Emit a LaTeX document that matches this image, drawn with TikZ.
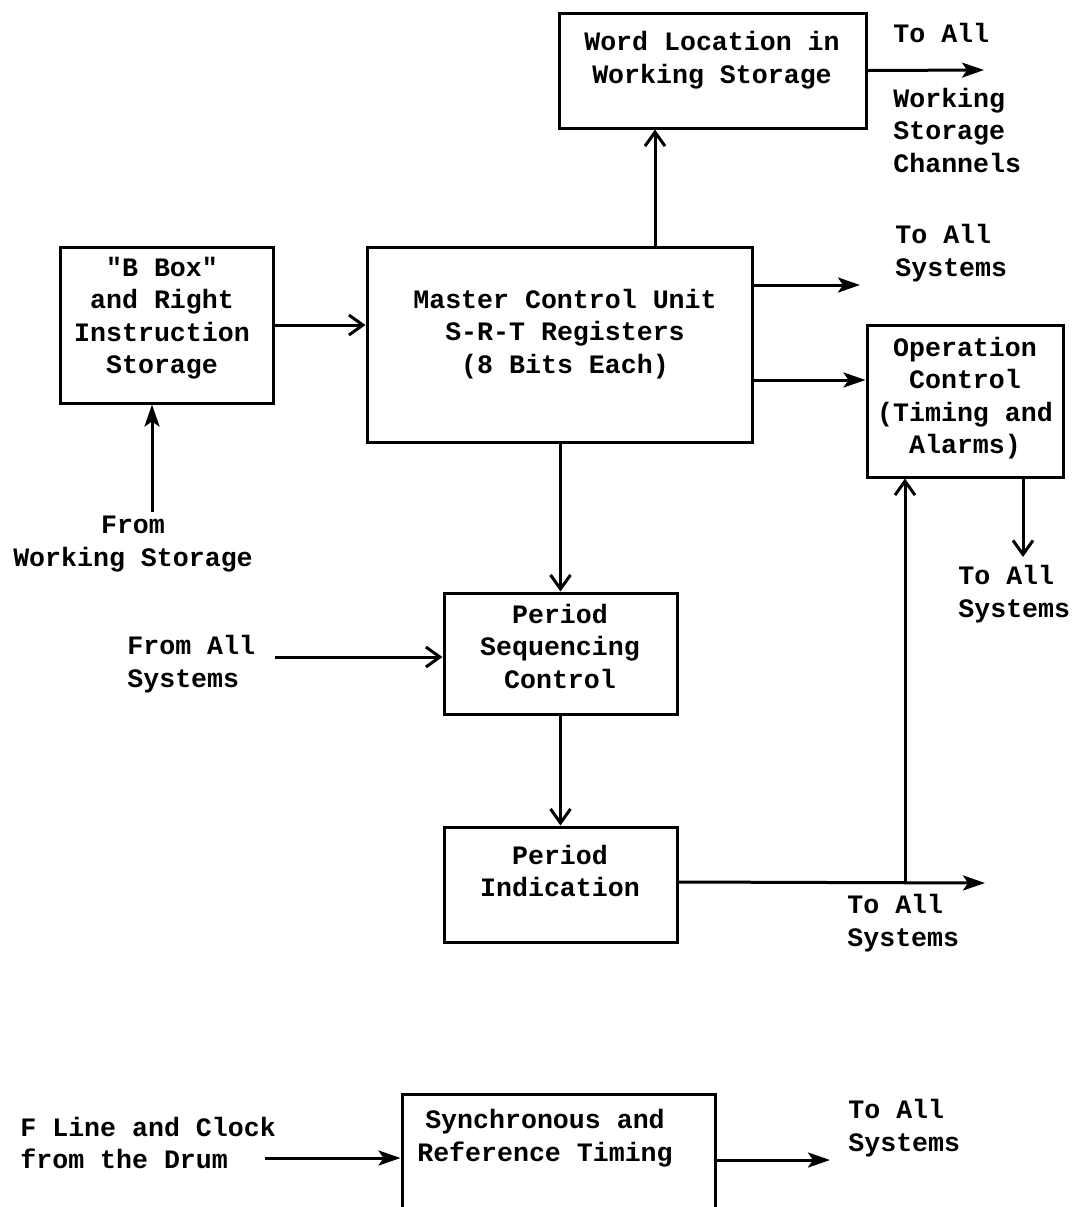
\documentclass[tikz,border=0pt]{standalone}
\usepackage{fontspec}
\setmonofont{Liberation Mono}
\usetikzlibrary{arrows.meta,fit}
\begin{document}
\begin{tikzpicture}[x=0.5pt,y=-0.5pt,
  box/.style={draw, line width=1.5pt, inner sep=0pt},
  txt/.style={font=\ttfamily\bfseries\fontsize{13.3}{16.25}\selectfont, align=center, inner sep=0pt},
  ltxt/.style={txt, align=left, anchor=west},
  conn/.style={line width=1.5pt},
  arrS/.style={conn, -{Stealth[length=11pt,width=7.5pt,inset=2.5pt]}},
  arrB/.style={conn, -{Straight Barb[length=7pt,width=10pt]}},
]
\useasboundingbox (0,0) rectangle (1074,1207);
\fill[white] (0,0) rectangle (1074,1207);
\clip (0,0) rectangle (1074,1207);

% boxes
\node[box, fit={(559,13) (866,128)}] (wl) {};
\node[box, fit={(60,247) (273,403)}] (bb) {};
\node[box, fit={(367,247) (752,442)}] (mc) {};
\node[box, fit={(867,325) (1063,477)}] (oc) {};
\node[box, fit={(444,593) (677,714)}] (seq) {};
\node[box, fit={(444,827) (677,942)}] (ind) {};
\node[box, fit={(402,1094) (715,1320)}] (sync) {};

% box texts
\node[txt] (wlt) at (712,60) {Word Location in\\Working Storage};
\node[txt] (bbt) at (162,318) {"B Box"\\and Right\\Instruction\\Storage};
\node[txt] (mct) at (565,334) {Master Control Unit\\S-R-T Registers\\(8 Bits Each)};
\node[txt] (oct) at (965,398) {Operation\\Control\\(Timing and\\Alarms)};
\node[txt] (seqt) at (560,646) {Period\\Sequencing\\Control};
\node[txt] (indt) at (560,871) {Period\\Indication};
\node[txt] (synct) at (545,1138) {Synchronous and\\Reference Timing};

% free labels
\node[ltxt] (l1) at (893,33) {To All};
\node[ltxt] (l2) at (893,130) {Working\\Storage\\Channels};
\node[ltxt] (l3) at (895,253) {To All\\Systems};
\node[ltxt] (l4) at (958,594) {To All\\Systems};
\node[txt] (l5) at (133,544) {From\\Working Storage};
\node[ltxt] (l6) at (127,664) {From All\\Systems};
\node[ltxt] (l7) at (847,923) {To All\\Systems};
\node[ltxt] (l8) at (20,1143) {F Line and Clock\\from the Drum};
\node[ltxt] (l9) at (848,1128) {To All\\Systems};

% coordinates for free ends
\coordinate (wlout) at (984,70);
\coordinate (mcup) at (655,0);
\coordinate (fws) at (152,512);
\coordinate (mcA) at (860,285);
\coordinate (ocin) at (0,380);
\coordinate (ocd) at (1023,557);
\coordinate (fa) at (275,657);
\coordinate (indout) at (985,883);
\coordinate (jn) at (905,882);
\coordinate (fl) at (265,1158);
\coordinate (so) at (830,1160);

% connectors
\draw[arrS] (wl.east) -- (wlout);
\draw[arrB] (mc.north -| mcup) -- (wl.south -| mcup);
\draw[arrB] (bb.east) -- (bb.east -| mc.west);
\draw[arrS] (fws) -- (fws |- bb.south);
\draw[arrS] (mcA -| mc.east) -- (mcA);
\draw[arrS] (mc.east |- ocin) -- (oc.west |- ocin);
\draw[arrB] (oc.south -| ocd) -- (ocd);
\draw[arrB] (mc.south -| seq.north) -- (seq.north);
\draw[arrB] (fa) -- (fa -| seq.west);
\draw[arrB] (seq.south) -- (ind.north);
\draw[arrS] (ind.east |- jn) -- (indout);
\draw[arrB] (jn) -- (jn |- oc.south);
\draw[arrS] (fl) -- (fl -| sync.west);
\draw[arrS] (sync.east |- so) -- (so);
\end{tikzpicture}
\end{document}
